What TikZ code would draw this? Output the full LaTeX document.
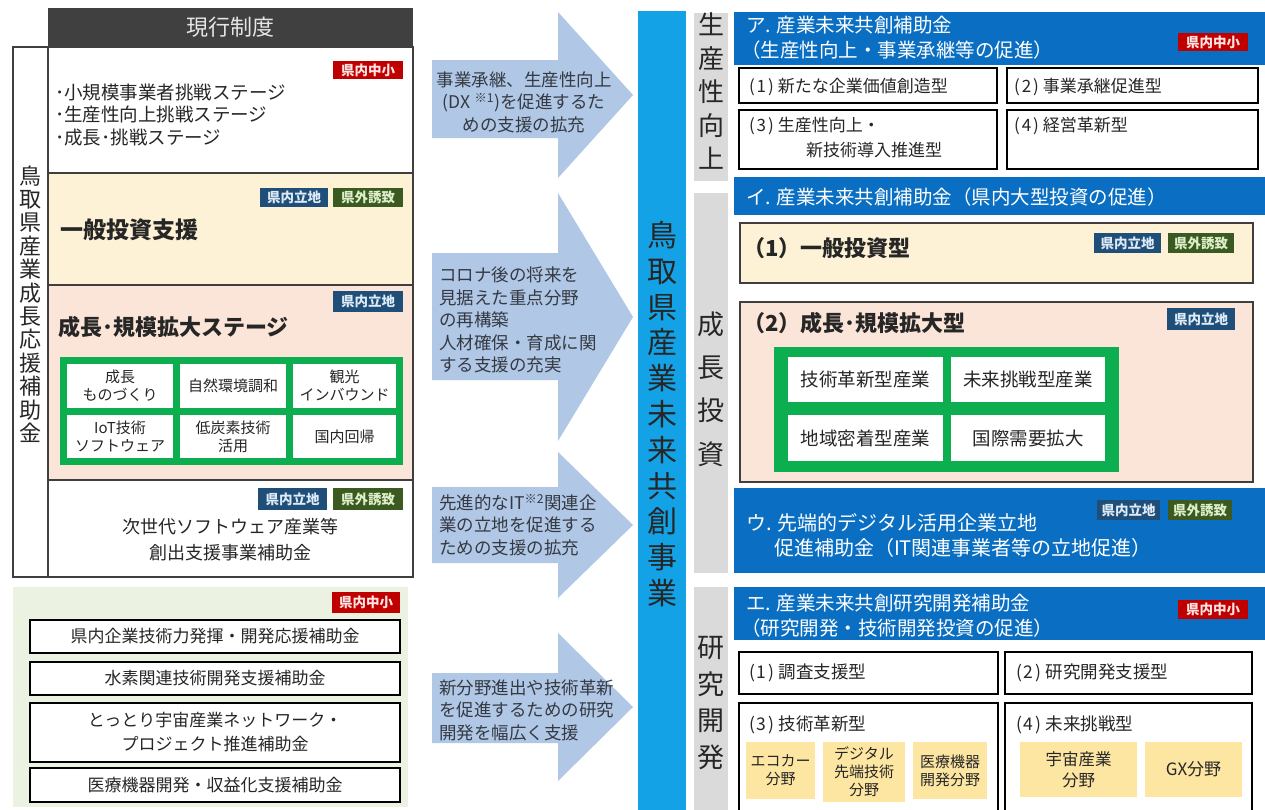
\documentclass[tikz,border=0pt]{standalone}
\usepackage{fontspec}
\setmainfont{Noto Sans CJK JP}
\definecolor{txt}{HTML}{262626}
\definecolor{hdrgray}{HTML}{404040}
\definecolor{hdrtxt}{HTML}{E6E6E6}
\definecolor{lgray}{HTML}{3F3F3F}
\definecolor{cream}{HTML}{FEF2D6}
\definecolor{pinkbg}{HTML}{FBE5D8}
\definecolor{grn}{HTML}{0DAE4F}
\definecolor{botbg}{HTML}{ECF2E2}
\definecolor{arrowc}{HTML}{B0C7E6}
\definecolor{barblue}{HTML}{14A2E6}
\definecolor{hblue}{HTML}{0A6FC2}
\definecolor{gcol}{HTML}{DADADA}
\definecolor{ylw}{HTML}{FDE6A2}
\definecolor{bred}{HTML}{C00000}
\definecolor{bnavy}{HTML}{1F4E79}
\definecolor{bgreen}{HTML}{3A5A22}
\definecolor{rtxt}{HTML}{FFE4E4}
\definecolor{ntxt}{HTML}{DDEBF7}
\definecolor{gtxt}{HTML}{DDEEC8}
\definecolor{arrtxt}{HTML}{353A42}
\newcommand\fsz[2]{\fontsize{#1}{#2}\selectfont}
\newcommand\pn[1]{(\kern2pt#1\kern2pt)\kern4pt}
\newcommand\mkbox[7]{%
  \pgfmathsetmacro\bw{#4-#2}%
  \pgfmathsetmacro\bh{#5-#3}%
  \node[#6, anchor=north west, minimum width=\bw pt, minimum height=\bh pt] (#1) at (#2,#3) {#7};}
\begin{document}
\begin{tikzpicture}[x=1pt,y=-1pt,
  every node/.style={inner sep=0pt,outer sep=0pt,text=txt},
  thin/.style={draw=lgray,line width=1.2pt},
  blk/.style={draw=black,line width=2.6pt,fill=white},
  badge/.style={fill=#1,font=\fsz{13.5}{15}\bfseries},
  bR/.style={badge=bred,text=rtxt},
  bN/.style={badge=bnavy,text=ntxt},
  bG/.style={badge=bgreen,text=gtxt},
  cell/.style={fill=white,font=\fsz{15}{18},align=center},
  ycell/.style={fill=ylw,font=\fsz{15}{18},align=center},
  hb/.style={fill=hblue},
  ht/.style={anchor=west,text=white,font=\fsz{19.5}{24}},
  bt/.style={anchor=west,font=\fsz{17}{23}},
  arrtx/.style={text=arrtxt,font=\fsz{17.5}{22.5}},
  vt/.style={align=center}]
\useasboundingbox (0,0) rectangle (1265,809);
\clip (0,0) rectangle (1265,809);
\fill[white] (0,0) rectangle (1265,809);

% ---------- left panel ----------
\mkbox{hdr}{48}{8}{413}{47}{fill=hdrgray,text=hdrtxt,font=\fsz{22}{26}}{現行制度}
\mkbox{lcol}{13}{47}{48}{577}{thin}{}
\node[vt,font=\fsz{22}{23.4}] (lcolt) at (30,304) {鳥\\取\\県\\産\\業\\成\\長\\応\\援\\補\\助\\金};
\mkbox{s1}{48}{47}{413}{173}{thin,fill=white}{}
\mkbox{s2}{48}{173}{413}{285}{thin,fill=cream}{}
\mkbox{s3}{48}{285}{413}{480}{thin,fill=pinkbg}{}
\mkbox{s4}{48}{480}{413}{577}{thin,fill=white}{}

\mkbox{b1}{333}{61}{403}{79}{bR}{県内中小}
\node[anchor=west,align=left,font=\fsz{18.5}{22.5}] (s1t) at (55,115) {･小規模事業者挑戦ステージ\\･生産性向上挑戦ステージ\\･成長･挑戦ステージ};

\mkbox{b2a}{260}{188}{328}{207}{bN}{県内立地}
\mkbox{b2b}{333}{188}{403}{207}{bG}{県外誘致}
\node[anchor=west,font=\fsz{23}{26}\bfseries] (s2t) at (60,230) {一般投資支援};

\mkbox{b3}{333}{291}{403}{312}{bN}{県内立地}
\node[anchor=west,font=\fsz{22}{26}\bfseries] (s3t) at (58,327) {成長･規模拡大ステージ};
\mkbox{lg}{60}{357}{403}{465}{fill=grn}{}
\mkbox{c11}{67}{364}{173}{408}{cell}{成長\\ものづくり}
\mkbox{c12}{180}{364}{286}{408}{cell}{自然環境調和}
\mkbox{c13}{293}{364}{396}{408}{cell}{観光\\インバウンド}
\mkbox{c21}{67}{415}{173}{458}{cell}{IoT技術\\ソフトウェア}
\mkbox{c22}{180}{415}{286}{458}{cell}{低炭素技術\\活用}
\mkbox{c23}{293}{415}{396}{458}{cell}{国内回帰}

\mkbox{b4a}{258}{488}{327}{510}{bN}{県内立地}
\mkbox{b4b}{333}{488}{403}{510}{bG}{県外誘致}
\node[align=center,font=\fsz{18}{26}] (s4t) at (230,540) {次世代ソフトウェア産業等\\創出支援事業補助金};

% ---------- bottom left ----------
\mkbox{bot}{13}{587}{408}{807}{fill=botbg}{}
\mkbox{b5}{332}{592}{400}{613}{bR}{県内中小}
\mkbox{k1}{30}{620}{400}{653}{blk,font=\fsz{17}{24}}{県内企業技術力発揮・開発応援補助金}
\mkbox{k2}{30}{662}{400}{695}{blk,font=\fsz{17}{24}}{水素関連技術開発支援補助金}
\mkbox{k3}{30}{703}{400}{762}{blk,font=\fsz{17}{24},align=center}{とっとり宇宙産業ネットワーク・\\プロジェクト推進補助金}
\mkbox{k4}{30}{768}{400}{802}{blk,font=\fsz{17}{24}}{医療機器開発・収益化支援補助金}

% ---------- arrows ----------
\fill[arrowc] (432,60) -- (558,60) -- (558,12) -- (633,95) -- (558,178) -- (558,138) -- (432,138) -- cycle;
\fill[arrowc] (432,253) -- (558,253) -- (558,193) -- (633,317) -- (558,441) -- (558,380) -- (432,380) -- cycle;
\fill[arrowc] (432,487) -- (558,487) -- (558,452) -- (633,525) -- (558,598) -- (558,563) -- (432,563) -- cycle;
\fill[arrowc] (432,673) -- (558,673) -- (558,633) -- (633,707) -- (558,781) -- (558,743) -- (432,743) -- cycle;
\node[arrtx,align=center] (a1t) at (524,102) {事業承継、生産性向上\\(DX \textsuperscript{※1})を促進するた\\めの支援の拡充};
\node[arrtx,align=left,anchor=west] (a2t) at (439,320) {コロナ後の将来を\\見据えた重点分野\\の再構築\\人材確保・育成に関\\する支援の充実};
\node[arrtx,align=left,anchor=west] (a3t) at (439,525) {先進的なIT\textsuperscript{※2}関連企\\業の立地を促進する\\ための支援の拡充};
\node[arrtx,align=left,anchor=west] (a4t) at (439,710) {新分野進出や技術革新\\を促進するための研究\\開発を幅広く支援};

% ---------- centre bar ----------
\mkbox{bar}{638}{11}{686}{815}{fill=barblue}{}
\node[vt,font=\fsz{30}{35.8}] (bart) at (662,414) {鳥\\取\\県\\産\\業\\未\\来\\共\\創\\事\\業};

% ---------- right gray columns ----------
\mkbox{g1}{694}{13}{728}{181}{fill=gcol}{}
\mkbox{g2}{694}{193}{728}{573}{fill=gcol}{}
\mkbox{g3}{694}{587}{728}{815}{fill=gcol}{}
\node[vt,font=\fsz{26}{33.5}] (g1t) at (711,91) {生\\産\\性\\向\\上};
\node[vt,font=\fsz{27}{43.3}] (g2t) at (711,389) {成\\長\\投\\資};
\node[vt,font=\fsz{27}{36.7}] (g3t) at (711,703) {研\\究\\開\\発};

% ---------- ア ----------
\mkbox{ha}{734}{12}{1265}{65}{hb}{}
\node[ht] (hat1) at (746,25) {ア. 産業未来共創補助金};
\node[ht] (hat2) at (741,50) {（生産性向上・事業承継等の促進）};
\mkbox{ba}{1178}{33}{1248}{51}{bR}{県内中小}
\mkbox{a1}{739}{68}{997}{103}{blk}{}
\mkbox{a2}{1007}{68}{1258}{103}{blk}{}
\mkbox{a3}{739}{110}{997}{169}{blk}{}
\mkbox{a4}{1007}{110}{1258}{169}{blk}{}
\node[bt] (a1t) at (749,87) {\pn{1}新たな企業価値創造型};
\node[bt] (a2t) at (1014,87) {\pn{2}事業承継促進型};
\node[bt] (a3t) at (749,126) {\pn{3}生産性向上・};
\node[bt] (a3u) at (806,150) {新技術導入推進型};
\node[bt] (a4t) at (1014,126) {\pn{4}経営革新型};

% ---------- イ ----------
\mkbox{hi}{734}{177}{1265}{215}{hb}{}
\node[ht] (hit) at (746,197) {イ. 産業未来共創補助金（県内大型投資の促進）};
\mkbox{i1}{740}{223}{1253}{283}{thin,fill=cream}{}
\node[anchor=west,font=\fsz{22}{26}\bfseries] (i1t) at (743,248) {（1）一般投資型};
\mkbox{bi1}{1094}{233}{1161}{253}{bN}{県内立地}
\mkbox{bi2}{1168}{233}{1234}{253}{bG}{県外誘致}
\mkbox{i2}{740}{302}{1253}{482}{thin,fill=pinkbg}{}
\node[anchor=west,font=\fsz{22}{26}\bfseries] (i2t) at (743,323) {（2）成長･規模拡大型};
\mkbox{bi3}{1167}{308}{1235}{330}{bN}{県内立地}
\mkbox{rg}{774}{347}{1119}{472}{fill=grn}{}
\mkbox{r11}{788}{357}{943}{402}{cell,font=\fsz{18.5}{22}}{技術革新型産業}
\mkbox{r12}{951}{357}{1105}{402}{cell,font=\fsz{18.5}{22}}{未来挑戦型産業}
\mkbox{r21}{788}{415}{943}{461}{cell,font=\fsz{18.5}{22}}{地域密着型産業}
\mkbox{r22}{951}{415}{1105}{461}{cell,font=\fsz{18.5}{22}}{国際需要拡大}

% ---------- ウ ----------
\mkbox{hu}{734}{488}{1265}{573}{hb}{}
\node[ht,font=\fsz{20}{24}] (hut1) at (746,523) {ウ. 先端的デジタル活用企業立地};
\node[ht,font=\fsz{20}{24}] (hut2) at (774,548) {促進補助金（IT関連事業者等の立地促進）};
\mkbox{bu1}{1097}{500}{1160}{520}{bN}{県内立地}
\mkbox{bu2}{1168}{500}{1232}{520}{bG}{県外誘致}

% ---------- エ ----------
\mkbox{he}{734}{587}{1265}{640}{hb}{}
\node[ht] (het1) at (746,603) {エ. 産業未来共創研究開発補助金};
\node[ht] (het2) at (741,628) {（研究開発・技術開発投資の促進）};
\mkbox{be}{1178}{600}{1248}{619}{bR}{県内中小}
\mkbox{e1}{739}{652}{998}{694}{blk}{}
\mkbox{e2}{1005}{652}{1252}{694}{blk}{}
\mkbox{e3}{739}{703}{998}{830}{blk}{}
\mkbox{e4}{1005}{703}{1252}{830}{blk}{}
\node[bt,font=\fsz{17.5}{23}] (e1t) at (749,673) {\pn{1}調査支援型};
\node[bt,font=\fsz{17.5}{23}] (e2t) at (1016,673) {\pn{2}研究開発支援型};
\node[bt,font=\fsz{17.5}{23}] (e3t) at (749,725) {\pn{3}技術革新型};
\node[bt,font=\fsz{17.5}{23}] (e4t) at (1016,725) {\pn{4}未来挑戦型};
\mkbox{y1}{746}{742}{815}{799}{ycell}{エコカー\\分野}
\mkbox{y2}{823}{742}{905}{802}{ycell}{デジタル\\先端技術\\分野}
\mkbox{y3}{913}{742}{987}{799}{ycell}{医療機器\\開発分野}
\mkbox{y4}{1020}{742}{1137}{797}{ycell,font=\fsz{16.5}{21}}{宇宙産業\\分野}
\mkbox{y5}{1145}{742}{1242}{797}{ycell,font=\fsz{17}{21}}{GX分野}
\end{tikzpicture}
\end{document}
